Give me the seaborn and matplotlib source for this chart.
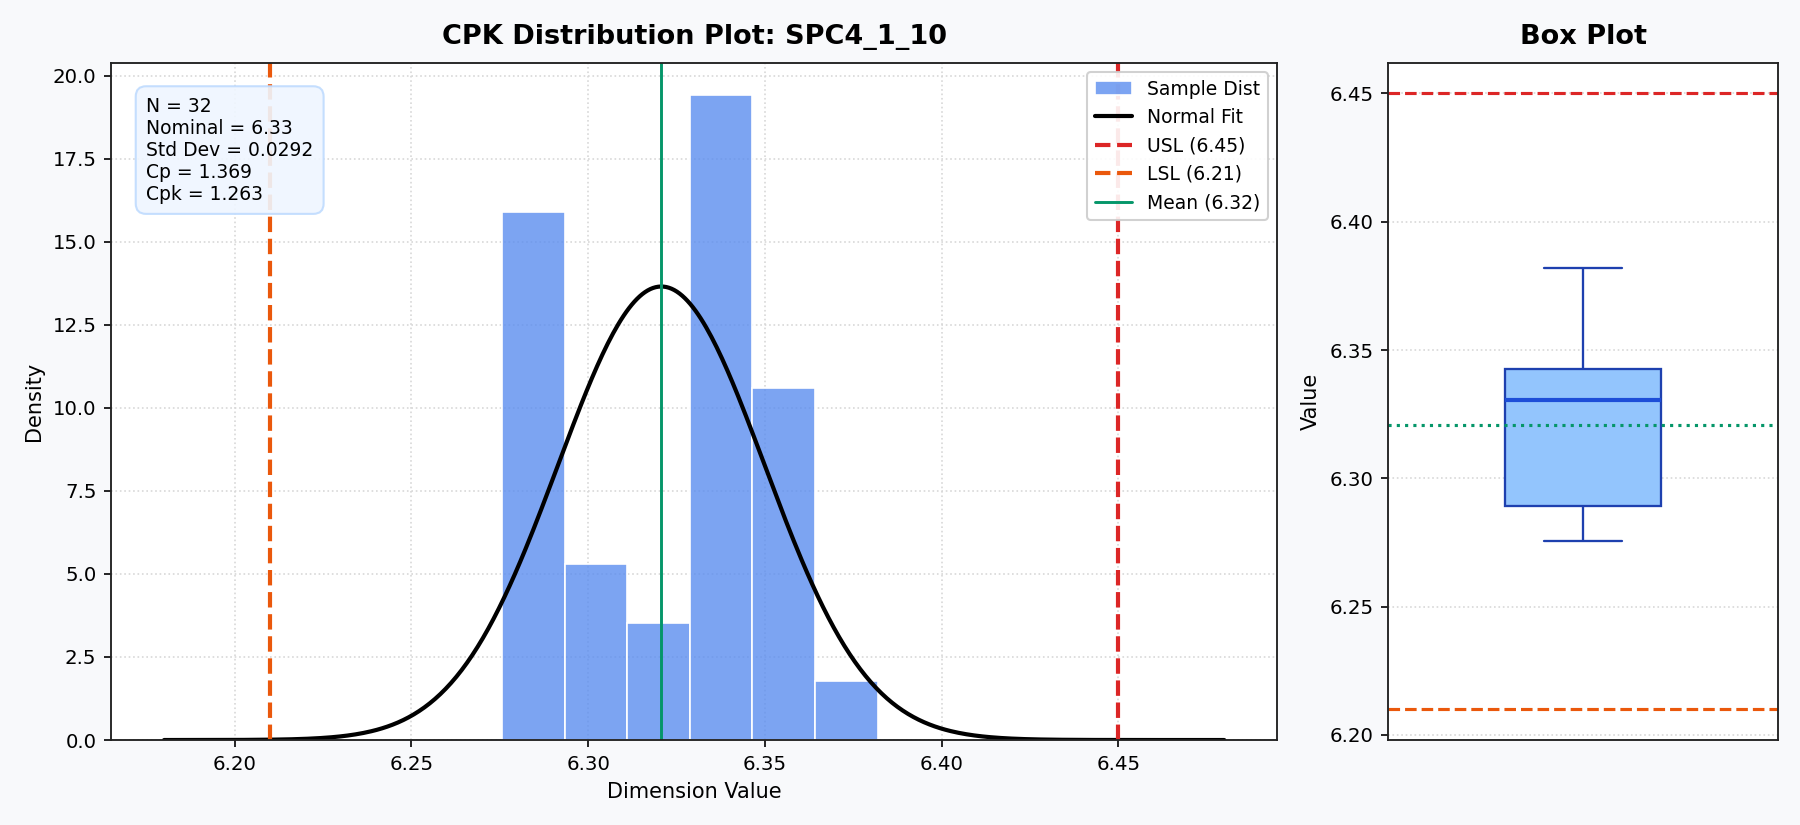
import numpy as np
import pandas as pd
import seaborn as sns
import matplotlib.pyplot as plt

samples = [6.2757, 6.2768, 6.2787, 6.2802, 6.2817, 6.2832, 6.2851, 6.2867, 6.2902,
           6.3007, 6.3057, 6.3097,
           6.3147, 6.3257,
           6.3293, 6.3300, 6.3308, 6.3312, 6.3317, 6.3322, 6.3327, 6.3337, 6.3352, 6.3419, 6.3443,
           6.3472, 6.3477, 6.3487, 6.3507, 6.3547, 6.3637,
           6.3819]
part_name = "SPC4_1_10"
nominal = 6.33
usl = 6.45
lsl = 6.21

sns.set_style("ticks")
plt.rcParams['font.family'] = ['DejaVu Sans']
plt.rcParams.update({'text.color': 'black', 'axes.labelcolor': 'black',
                     'xtick.color': 'black', 'ytick.color': 'black'})

df = pd.DataFrame({'value': samples})
n = len(df)
mean = df['value'].mean()
std = df['value'].std()
cp = (usl - lsl) / (6 * std)
cpk = min(usl - mean, mean - lsl) / (3 * std)

c_hist = "#5b8def"
c_usl = "#dc2626"
c_lsl = "#ea580c"
c_mean = "#059669"

fig, (ax, ax2) = plt.subplots(1, 2, figsize=(12, 5.5), dpi=150,
                              gridspec_kw={'width_ratios': [1166, 390]})
fig.patch.set_facecolor("#f8f9fb")
plt.subplots_adjust(left=0.0617, right=0.988, top=0.924, bottom=0.103, wspace=0.1427)

# --- distribution ---
sns.histplot(data=df, x='value', bins=6, stat='density', color=c_hist, alpha=0.8,
             edgecolor='white', linewidth=0.8, label='Sample Dist', ax=ax)

xs = np.linspace(lsl - 0.03, usl + 0.03, 400)
pdf = np.exp(-0.5 * ((xs - mean) / std) ** 2) / (std * np.sqrt(2 * np.pi))
sns.lineplot(x=xs, y=pdf, color='black', linewidth=2, label='Normal Fit', ax=ax)

ax.axvline(usl, color=c_usl, linestyle='--', linewidth=2, label=f'USL ({usl:.2f})')
ax.axvline(lsl, color=c_lsl, linestyle='--', linewidth=2, label=f'LSL ({lsl:.2f})')
ax.axvline(mean, color=c_mean, linestyle='-', linewidth=1.4, label=f'Mean ({mean:.2f})')

ax.set_xticks(np.arange(6.20, 6.451, 0.05))
ax.set_xticklabels([f"{t:.2f}" for t in np.arange(6.20, 6.451, 0.05)])
ax.set_title(f"CPK Distribution Plot: {part_name}", fontsize=13, fontweight='bold', pad=9)
ax.set_xlabel("Dimension Value", fontsize=10)
ax.set_ylabel("Density", fontsize=10)
ax.tick_params(labelsize=9.5)
ax.grid(True, linestyle=':', color='#d8d8d8', linewidth=0.8)
ax.set_axisbelow(True)

stats_txt = (f"N = {n}\nNominal = {nominal:.2f}\nStd Dev = {std:.4f}\n"
             f"Cp = {cp:.3f}\nCpk = {cpk:.3f}")
ax.text(0.03, 0.95, stats_txt, transform=ax.transAxes, va='top', ha='left', fontsize=9,
        bbox=dict(boxstyle='round,pad=0.55', facecolor='#eff6ff', edgecolor='#bfdbfe', alpha=0.9))

order = ['Sample Dist', 'Normal Fit', f'USL ({usl:.2f})', f'LSL ({lsl:.2f})', f'Mean ({mean:.2f})']
h, l = ax.get_legend_handles_labels()
hmap = dict(zip(l, h))
ax.legend([hmap[k] for k in order], order, loc='upper right', fontsize=9, framealpha=0.9)

# --- box plot ---
sns.boxplot(y=df['value'], ax=ax2, width=0.4, color="#93c5fd", saturation=1,
            linecolor="#1e40af", linewidth=1.1, fliersize=3,
            medianprops=dict(color="#1d4ed8", linewidth=2))
ax2.axhline(usl, color=c_usl, linestyle='--', linewidth=1.5)
ax2.axhline(lsl, color=c_lsl, linestyle='--', linewidth=1.5)
ax2.axhline(mean, color=c_mean, linestyle=':', linewidth=1.5)
span = usl - lsl
ax2.set_ylim(lsl - 0.05 * span, usl + 0.05 * span)
ax2.set_xlim(-0.5, 0.5)
ax2.set_yticks(np.arange(6.20, 6.451, 0.05))
ax2.set_yticklabels([f"{t:.2f}" for t in np.arange(6.20, 6.451, 0.05)])
ax2.set_xticks([])
ax2.set_xlabel("")
ax2.set_ylabel("Value", fontsize=10)
ax2.set_title("Box Plot", fontsize=13, fontweight='bold', pad=9)
ax2.tick_params(labelsize=9.5)
ax2.grid(True, axis='y', linestyle=':', color='#d8d8d8', linewidth=0.8)
ax2.set_axisbelow(True)

for a in (ax, ax2):
    for s in a.spines.values():
        s.set_visible(True)
        s.set_color('#222222')
        s.set_linewidth(0.9)

plt.savefig("out.png", dpi=150, facecolor=fig.get_facecolor())
